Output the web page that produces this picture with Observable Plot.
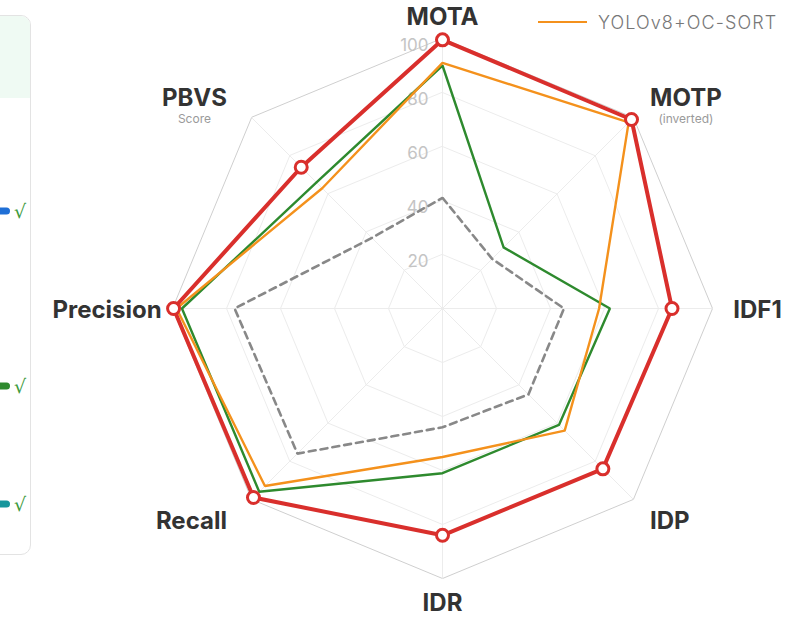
<!DOCTYPE html>
<html><head><meta charset="utf-8">
<script src="https://cdn.jsdelivr.net/npm/d3@7"></script>
<script src="https://cdn.jsdelivr.net/npm/@observablehq/plot@0.6"></script>
<style>
html,body{margin:0;padding:0;background:#fff;}
body{width:808px;height:618px;overflow:hidden;position:relative;font-family:Inter,Roboto,sans-serif;}
#chart{position:absolute;left:0;top:0;}
.card{position:absolute;left:-300px;top:15px;width:329px;height:538px;border:1px solid #e3e3e3;border-radius:10px;background:#fff;overflow:hidden;}
.card .hdr{height:82px;background:#effaf3;}
.item{position:absolute;right:4px;display:flex;align-items:center;gap:4px;transform:translateY(-50%);}
.bar{width:40px;height:7px;border-radius:4px;}
.chk{color:#3c9a3c;font-size:19px;line-height:1;font-family:"DejaVu Sans",sans-serif;}
.legend{position:absolute;left:538px;top:12px;height:20px;display:flex;align-items:center;gap:11px;font-family:Inter,sans-serif;font-weight:300;font-size:18px;letter-spacing:1.1px;color:#777;}
.legend .sw{width:49px;height:2.5px;}
</style>
</head><body>
<div class="card" id="card"><div class="hdr"></div></div>
<div id="chart"></div>
<div class="legend" id="legend"></div>
<script>
// ---- data ----
const axes = ["MOTA", "MOTP", "IDF1", "IDP", "IDR", "Recall", "Precision", "PBVS"];
const axisSub = ["", "(inverted)", "", "", "", "", "", "Score"];
const ticks = [20, 40, 60, 80, 100];
const seriesNames = ["Baseline", "ByteTrack", "YOLOv8+OC-SORT", "Proposed"];
const baselineVals = [41, 26, 45, 45, 44, 76, 77, 37];
const greenVals    = [90, 32, 62, 61, 61, 96, 96.5, 66];
const orangeVals   = [91, 97.5, 58, 64, 55, 93, 98.5, 63];
const redVals      = [99.5, 99, 85, 84, 84, 99, 99.6, 74];
const legendNames = ["YOLOv8+OC-SORT"];
const panelColors = ["#1f6fd6", "#2f8a2f", "#17969c"];

// ---- layout ----
const W = 808, H = 618, cx = 442, cy = 308, k = 2.7;
const rad = axes.map((_, i) => i * 2 * Math.PI / axes.length);
const P = (v, i) => ({x: v * Math.sin(rad[i]), y: v * Math.cos(rad[i])});

const styles = [
  {stroke: "#888888", strokeWidth: 2.6, strokeDasharray: "7,5"},
  {stroke: "#2e8a2e", strokeWidth: 2.4},
  {stroke: "#f4911c", strokeWidth: 2.4},
  {stroke: "#d92f2c", strokeWidth: 4}
];
const allVals = [baselineVals, greenVals, orangeVals, redVals];

const ringData = ticks.flatMap(t => axes.map((a, i) => ({level: t, ...P(t, i)})));
const spokes = axes.map((a, i) => ({a, ...P(100, i)}));

// labels
const LF = "Inter, Roboto, sans-serif";
const ctx = document.createElement("canvas").getContext("2d");
ctx.font = "bold 24px Inter";
const rb = 104;
const labels = axes.map((name, i) => {
  const s = Math.sin(rad[i]), c = Math.cos(rad[i]);
  const sx = Math.abs(s) < 0.1 ? 0 : Math.sign(s);
  const sy = Math.abs(c) < 0.1 ? 0 : Math.sign(c);
  const w = ctx.measureText(name).width;
  const px = cx + rb * k * s, py = cy - rb * k * c;
  const gx = sx === 0 ? 0 : (sy === 0 ? (sx > 0 ? 10 : 0) : (sx > 0 ? 9 : -17));
  const mx = px + sx * w / 2 + gx;
  const my = py + (sy > 0 ? -10 : sy < 0 ? 14 : 2) - (axisSub[i] ? 2 : 0);
  return {name, sub: axisSub[i], x: (mx - cx) / k, y: (cy - my) / k, ys: (cy - my - 21) / k};
});

const marks = [
  ...ticks.map(t => Plot.line(ringData.filter(d => d.level === t), {
    x: "x", y: "y", curve: "linear-closed",
    stroke: t === 100 ? "#cfcfcf" : "#ececec", strokeWidth: 1
  })),
  Plot.link(spokes, {x1: 0, y1: 0, x2: "x", y2: "y", stroke: "#ececec", strokeWidth: 1}),
  Plot.text(ticks, {x: 0, y: d => d, text: d => String(d), textAnchor: "end", dx: -14, dy: 7,
    fill: "#c4c4c4", fontSize: 17, fontFamily: LF}),
  ...allVals.map((vals, si) => Plot.line(vals.map((v, i) => P(v, i)), {
    x: "x", y: "y", curve: "linear-closed", ...styles[si], strokeLinejoin: "miter"
  })),
  Plot.dot(redVals.map((v, i) => P(v, i)), {x: "x", y: "y", r: 6, fill: "#fff",
    stroke: styles[3].stroke, strokeWidth: 3}),
  Plot.text(labels, {x: "x", y: "y", text: "name", fontSize: 24, fontWeight: "bold",
    fill: "#333", fontFamily: LF}),
  Plot.text(labels.filter(d => d.sub), {x: "x", y: "ys", text: "sub", fontSize: 12,
    fill: "#9a9a9a", fontFamily: LF})
];

const chart = Plot.plot({
  width: W, height: H,
  marginTop: 0, marginRight: 0, marginBottom: 0, marginLeft: 0,
  x: {domain: [-cx / k, (W - cx) / k], range: [0, W], axis: null},
  y: {domain: [-(H - cy) / k, cy / k], range: [H, 0], axis: null},
  style: {background: "transparent", overflow: "visible"},
  marks
});
document.getElementById("chart").appendChild(chart);

// legend
const lg = document.getElementById("legend");
legendNames.forEach(n => {
  const si = seriesNames.indexOf(n);
  const sw = document.createElement("div"); sw.className = "sw"; sw.style.background = styles[si].stroke;
  const t = document.createElement("span"); t.textContent = n;
  lg.appendChild(sw); lg.appendChild(t);
});

// left panel (clipped)
const card = document.getElementById("card");
const itemY = [195, 370, 488];
panelColors.forEach((col, i) => {
  const it = document.createElement("div"); it.className = "item"; it.style.top = itemY[i] + "px";
  const b = document.createElement("div"); b.className = "bar"; b.style.background = col;
  const c = document.createElement("span"); c.className = "chk"; c.textContent = "\u221A";
  it.appendChild(b); it.appendChild(c); card.appendChild(it);
});
</script>
</body></html>
